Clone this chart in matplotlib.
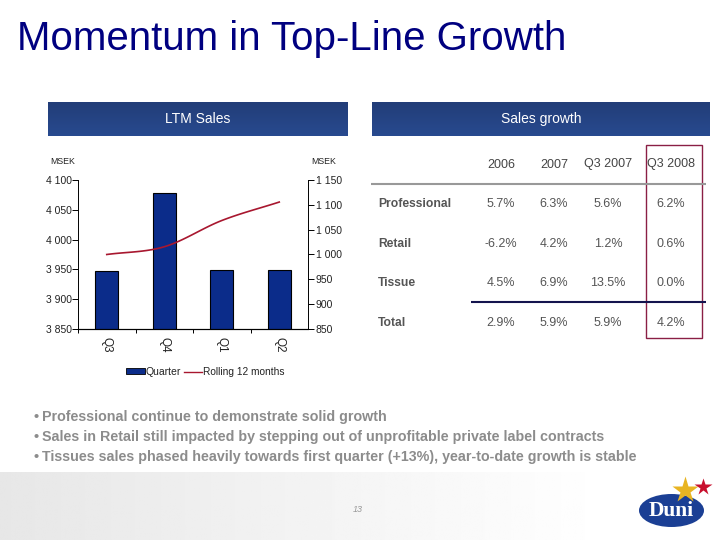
import numpy as np
import matplotlib
matplotlib.use("Agg")
import matplotlib.pyplot as plt
from matplotlib.patches import Rectangle, Ellipse

plt.rcParams['font.family'] = ['Liberation Sans', 'DejaVu Sans']

# data
quarters = ['Q3', 'Q4', 'Q1', 'Q2']
quarter_sales = [967, 1124, 969, 969]
rolling_12m = [3975, 3988, 4032, 4063]
left_ticks = [3850, 3900, 3950, 4000, 4050, 4100]
right_ticks = [850, 900, 950, 1000, 1050, 1100, 1150]
table_cols = ['2006', '2007', 'Q3 2007', 'Q3 2008']
table_rows = ['Professional', 'Retail', 'Tissue', 'Total']
table_vals = [['5.7%', '6.3%', '5.6%', '6.2%'],
              ['-6.2%', '4.2%', '1.2%', '0.6%'],
              ['4.5%', '6.9%', '13.5%', '0.0%'],
              ['2.9%', '5.9%', '5.9%', '4.2%']]
bullets = ['• Professional continue to demonstrate solid growth',
           '• Sales in Retail still impacted by stepping out of unprofitable private label contracts',
           '• Tissues sales phased heavily towards first quarter (+13%), year-to-date growth is stable']

W, H = 720, 540
NAVY = '#000080'

def smooth(y, n=20):
    y = np.asarray(y, float)
    p = np.concatenate([[2*y[0]-y[1]], y, [2*y[-1]-y[-2]]])
    xs, ys = [], []
    for i in range(1, len(p)-2):
        t = np.linspace(0, 1, n)
        ys.append(0.5*((2*p[i]) + (p[i+1]-p[i-1])*t + (2*p[i-1]-5*p[i]+4*p[i+1]-p[i+2])*t**2
                       + (3*p[i]-p[i-1]-3*p[i+1]+p[i+2])*t**3))
        xs.append(i-1+t)
    return np.concatenate(xs), np.concatenate(ys)

fig = plt.figure(figsize=(7.2, 5.4), dpi=100)
bg = fig.add_axes([0, 0, 1, 1])
bg.axis('off')
grad = np.linspace(0.905, 1.0, 256).reshape(1, -1)
bg.imshow(grad, extent=[0, 610, 540, 472], cmap='gray', vmin=0, vmax=1, aspect='auto', zorder=0)
top = np.array([0x22, 0x3D, 0x78]) / 255
bot = np.array([0x28, 0x4A, 0x8F]) / 255
hg = np.linspace(top, bot, 32).reshape(-1, 1, 3)
bg.imshow(hg, extent=[48, 348, 136, 102], aspect='auto', zorder=1)
bg.imshow(hg, extent=[372, 710, 136, 102], aspect='auto', zorder=1)
bg.set_xlim(0, W); bg.set_ylim(H, 0)

bg.text(17, 39, 'Momentum in Top-Line Growth', fontsize=29, color=NAVY, va='center', ha='left')
bg.text(198, 119, 'LTM Sales', color='white', fontsize=10, ha='center', va='center', zorder=3)
bg.text(541, 119, 'Sales growth', color='white', fontsize=10, ha='center', va='center', zorder=3)
bg.text(63, 161, 'MSEK', fontsize=6.3, color='#222222', ha='center', va='center')
bg.text(324, 161, 'MSEK', fontsize=6.3, color='#222222', ha='center', va='center')

# chart
ax = fig.add_axes([78/W, 1-329/H, 230/W, 149/H])
ax2 = ax.twinx()
x = np.arange(len(quarters))
ax2.bar(x, quarter_sales, width=0.4, color='#0B2C8A', edgecolor='black', linewidth=0.8, zorder=2)
ax2.set_ylim(850, 1150)
ax2.set_yticks(right_ticks)
ax2.set_yticklabels([f'{v:,}'.replace(',', ' ') for v in right_ticks], fontsize=7.5, color='#222222')
ax.set_zorder(ax2.get_zorder()+1); ax.patch.set_visible(False)
sx, sy = smooth(rolling_12m)
line, = ax.plot(sx, sy, color='#A8172F', lw=1.2)
ax.set_ylim(3850, 4100)
ax.set_xlim(-0.5, 3.5)
ax.set_yticks(left_ticks)
ax.set_yticklabels([f'{v:,}'.replace(',', ' ') for v in left_ticks], fontsize=7.5, color='#222222')
ax.set_xticks(x - 0.5)
ax.set_xticks(x, minor=True)
ax.set_xticklabels([])
ax.set_xticklabels(quarters, minor=True, rotation=-90, fontsize=8.5, color='#222222')
ax.tick_params(axis='x', which='minor', length=0, pad=6)
ax.tick_params(axis='x', which='major', length=3, width=0.7, direction='out')
ax.tick_params(axis='y', length=4, width=0.7, pad=0.5)
ax2.tick_params(axis='y', length=4, width=0.7, pad=1.5)
ax2.set_xticks(x - 0.5); ax2.set_xticklabels([])
ax2.tick_params(axis='x', length=0)
for a in (ax, ax2):
    a.spines['top'].set_visible(False)
    a.spines['left'].set_visible(False)
    a.spines['right'].set_visible(False)
    a.spines['bottom'].set_linewidth(0.8)
ax.spines['left'].set_visible(True); ax.spines['left'].set_linewidth(0.7)
ax2.spines['right'].set_visible(True); ax2.spines['right'].set_linewidth(0.7)

# legend
bg.add_patch(Rectangle((126, 368), 19, 6, fc='#0B2C8A', ec='black', lw=0.6))
bg.text(146, 372, 'Quarter', fontsize=7.5, color='#222222', va='center')
bg.plot([184, 202], [372, 372], color='#A8172F', lw=1.0)
bg.text(203, 372, 'Rolling 12 months', fontsize=7.3, color='#222222', va='center')

# table
col_x = [501, 554, 608, 671]
row_y = [204, 244, 283.5, 322.5]
for cx, c in zip(col_x, table_cols):
    bg.text(cx, 164.5, c, fontsize=9, color='#444444', ha='center', va='center')
for ry, r, vals in zip(row_y, table_rows, table_vals):
    bg.text(378, ry, r, fontsize=8.7, color='#555555', ha='left', va='center', fontweight='bold')
    for cx, v in zip(col_x, vals):
        bg.text(cx, ry, v, fontsize=9, color='#555555', ha='center', va='center')
bg.plot([371, 706], [184, 184], color='#999999', lw=1.5, solid_capstyle='butt')
bg.plot([471, 706], [302, 302], color='#14144E', lw=1.5, solid_capstyle='butt')
bg.add_patch(Rectangle((645.5, 144.5), 56, 193, fc='none', ec='#8A1F45', lw=1.0))

# bullets
for y, b in zip([417.5, 437.5, 457.5], bullets):
    bg.text(41.5, y, b[2:], fontsize=10.25, color='#8C8C8C', fontweight='bold', va='center', ha='left')
    bg.text(33, y, b[0], fontsize=10.25, color='#8C8C8C', fontweight='bold', va='center', ha='left')

bg.text(358, 509, '13', fontsize=6.5, style='italic', color='#999999', ha='center', va='center')

# logo
bg.add_patch(Ellipse((671.5, 510.5), 65, 33, fc='#1B3F94', ec='none', zorder=3))
bg.text(671.5, 511.5, 'Duni', family='Liberation Serif', color='white', fontsize=15.5, fontweight='bold', ha='center', va='center', zorder=4)
bg.plot([685], [490], marker='*', ms=20, color='#E8B422', zorder=4, mec='none')
bg.plot([703], [487], marker='*', ms=13, color='#C8102E', zorder=4, mec='none')

fig.savefig('out.png', dpi=100)
